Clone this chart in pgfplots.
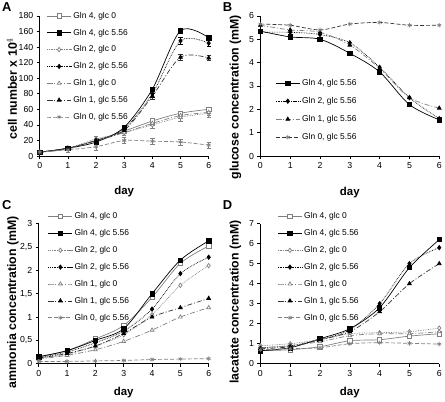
\documentclass[border=0pt]{standalone}
\usepackage{fontspec}
\setmainfont{Liberation Sans}
\usepackage{pgfplots}
\pgfplotsset{compat=1.18}
\definecolor{lg}{gray}{0.5}
\definecolor{dg}{gray}{0.2}
\pgfplotsset{
 panel/.style={scale only axis, axis x line=bottom, axis y line=left,
  axis line style={-, line width=0.6pt}, tick align=outside, major tick length=3pt,
  tick style={black, line width=0.6pt}, xmin=0, xmax=6, xtick={0,...,6}, clip=false,
  tick label style={font=\fontsize{8.8}{10}\selectfont},
  /pgf/number format/assume math mode=true,
  xlabel={day},
  legend cell align=left,
  legend style={draw=none, fill=none, font=\fontsize{8.5}{10}\selectfont, anchor=north west, row sep=5.3pt, inner sep=1pt},
  legend image code/.code={\draw[mark repeat=2, mark phase=2] plot coordinates {(0pt,0pt) (12pt,0pt) (24pt,0pt)};},
  every axis plot/.append style={line width=0.7pt, mark size=2.2pt, smooth},
  error bars/error bar style={solid, line width=0.5pt},
 },
 ylab/.style 2 args={every axis y label/.style={at={(axis description cs:#1,#2)}, rotate=90, anchor=center, font=\bfseries\fontsize{12.4}{14}\selectfont}},
 xlab/.style={every axis x label/.style={at={(axis description cs:0.5,#1)}, anchor=center, font=\bfseries\fontsize{11.5}{13}\selectfont}},
 s4o/.style={lg, solid, mark=square*, mark options={solid, fill=white, draw=lg}},
 s4f/.style={black, solid, mark=square*, mark options={solid, fill=black}},
 s2o/.style={lg, densely dotted, mark=diamond*, mark options={solid, fill=white, draw=lg}},
 s2f/.style={black, densely dotted, mark=diamond*, mark options={solid, fill=black}},
 s1o/.style={lg, dash pattern=on 5pt off 2pt on 1pt off 2pt, mark=triangle*, mark options={solid, fill=white, draw=lg}},
 s1f/.style={dg, dash pattern=on 5pt off 2pt on 1pt off 2pt, mark=triangle*, mark options={solid, fill=black, draw=black}},
 s0/.style={lg, dash pattern=on 4pt off 2pt, mark=asterisk, mark options={solid, draw=lg}},
}
\begin{document}
\begin{tikzpicture}
\path (0pt,0pt) rectangle (445pt,401pt);
\node[anchor=north west, font=\bfseries\fontsize{13}{15}\selectfont, inner sep=0pt] at (2pt,399pt) {A};
\node[anchor=north west, font=\bfseries\fontsize{13}{15}\selectfont, inner sep=0pt] at (224pt,399pt) {B};
\node[anchor=north west, font=\bfseries\fontsize{13}{15}\selectfont, inner sep=0pt] at (2pt,199pt) {C};
\node[anchor=north west, font=\bfseries\fontsize{13}{15}\selectfont, inner sep=0pt] at (224pt,199pt) {D};

% ---------- A ----------
\begin{axis}[panel, at={(40pt,244pt)}, anchor=south west, width=170pt, height=141pt,
  ymin=0, ymax=180, ytick={0,20,...,180},
  ylabel={cell number x 10$^{4}$}, ylab={-0.165}{0.48}, xlab=-0.25,
  legend style={at={(axis description cs:0.035,1.05)}},
  error bars/y dir=both, error bars/y explicit]
\addplot[s4o] coordinates {(0,5)+-(0,1) (1,10)+-(0,1) (2,20)+-(0,2) (3,32)+-(0,2) (4,45)+-(0,3) (5,55)+-(0,3) (6,60)+-(0,3)};
\addlegendentry{Gln 4, glc 0}
\addplot[s4f] coordinates {(0,5)+-(0,1) (1,10)+-(0,2) (2,18)+-(0,2) (3,37)+-(0,3) (4,86)+-(0,3) (5,161)+-(0,3) (6,152)+-(0,3)};
\addlegendentry{Gln 4, glc 5.56}
\addplot[s2o] coordinates {(0,5)+-(0,1) (1,10)+-(0,2) (2,22)+-(0,3) (3,30)+-(0,3) (4,40)+-(0,4) (5,50)+-(0,5) (6,55)+-(0,5)};
\addlegendentry{Gln 2, glc 0}
\addplot[s2f] coordinates {(0,5)+-(0,1) (1,10)+-(0,2) (2,20)+-(0,2) (3,35)+-(0,3) (4,80)+-(0,4) (5,148)+-(0,4) (6,145)+-(0,4)};
\addlegendentry{Gln 2, glc 5.56}
\addplot[s1o] coordinates {(0,5)+-(0,1) (1,9)+-(0,2) (2,20)+-(0,2) (3,30)+-(0,3) (4,42)+-(0,3) (5,52)+-(0,4) (6,56)+-(0,4)};
\addlegendentry{Gln 1, glc 0}
\addplot[s1f] coordinates {(0,5)+-(0,1) (1,10)+-(0,2) (2,20)+-(0,2) (3,33)+-(0,3) (4,77)+-(0,4) (5,127)+-(0,4) (6,126)+-(0,3)};
\addlegendentry{Gln 1, glc 5.56}
\addplot[s0] coordinates {(0,5)+-(0,2) (1,8)+-(0,3) (2,12)+-(0,4) (3,20)+-(0,4) (4,19)+-(0,4) (5,18)+-(0,4) (6,14)+-(0,4)};
\addlegendentry{Gln 0, glc 5.56}
\end{axis}

% ---------- B ----------
\begin{axis}[panel, at={(262pt,244pt)}, anchor=south west, width=180pt, height=141pt,
  ymin=0, ymax=6, ytick={0,...,6},
  ylabel={glucose concentration (mM)}, ylab={-0.139}{0.42}, xlab=-0.26,
  legend style={at={(axis description cs:0.078,0.57)}, row sep=6.5pt}]
\addplot[s4f] coordinates {(0,5.35) (1,5.1) (2,5.0) (3,4.4) (4,3.6) (5,2.2) (6,1.55)};
\addlegendentry{Gln 4, glc 5.56}
\addplot[s2f] coordinates {(0,5.3) (1,5.3) (2,5.2) (3,4.85) (4,3.8) (5,2.5) (6,1.6)};
\addlegendentry{Gln 2, glc 5.56}
\addplot[s1f, lg] coordinates {(0,5.6) (1,5.4) (2,5.3) (3,4.75) (4,3.75) (5,2.5) (6,2.05)};
\addlegendentry{Gln 1, glc 5.56}
\addplot[s0, dg] coordinates {(0,5.65) (1,5.6) (2,5.4) (3,5.65) (4,5.72) (5,5.6) (6,5.6)};
\addlegendentry{Gln 0, glc 5.56}
\end{axis}

% ---------- C ----------
\begin{axis}[panel, at={(39pt,35pt)}, anchor=south west, width=171pt, height=141pt,
  ymin=0, ymax=3, ytick={0,0.5,...,3},
  /pgf/number format/use comma,
  ylabel={ammonia concentration (mM)}, ylab={-0.152}{0.44}, xlab=-0.206,
  legend style={at={(axis description cs:0.048,1.1)}}]
\addplot[s4o] coordinates {(0,0.15) (1,0.28) (2,0.53) (3,0.82) (4,1.42) (5,2.15) (6,2.52)};
\addlegendentry{Gln 4, glc 0}
\addplot[s4f] coordinates {(0,0.15) (1,0.28) (2,0.5) (3,0.75) (4,1.5) (5,2.22) (6,2.63)};
\addlegendentry{Gln 4, glc 5.56}
\addplot[s2o] coordinates {(0,0.12) (1,0.2) (2,0.38) (3,0.62) (4,1.05) (5,1.68) (6,2.1)};
\addlegendentry{Gln 2, glc 0}
\addplot[s2f] coordinates {(0,0.13) (1,0.25) (2,0.45) (3,0.7) (4,1.17) (5,1.93) (6,2.28)};
\addlegendentry{Gln 2, glc 5.56}
\addplot[s1o] coordinates {(0,0.1) (1,0.18) (2,0.3) (3,0.48) (4,0.72) (5,1.0) (6,1.2)};
\addlegendentry{Gln 1, glc 0}
\addplot[s1f] coordinates {(0,0.12) (1,0.22) (2,0.38) (3,0.65) (4,1.0) (5,1.2) (6,1.4)};
\addlegendentry{Gln 1, glc 5.56}
\addplot[s0] coordinates {(0,0.05) (1,0.05) (2,0.06) (3,0.07) (4,0.09) (5,0.1) (6,0.11)};
\addlegendentry{Gln 0, glc 5.56}
\end{axis}

% ---------- D ----------
\begin{axis}[panel, at={(262pt,35pt)}, anchor=south west, width=180pt, height=141pt,
  ymin=0, ymax=7, ytick={0,...,7},
  ylabel={lacatate concentration (mM)}, ylab={-0.139}{0.44}, xlab=-0.206,
  legend style={at={(axis description cs:0.09,1.1)}}]
\addplot[s4o] coordinates {(0,0.65) (1,0.7) (2,0.85) (3,1.15) (4,1.2) (5,1.38) (6,1.5)};
\addlegendentry{Gln 4, glc 0}
\addplot[s4f] coordinates {(0,0.65) (1,0.8) (2,1.25) (3,1.75) (4,2.8) (5,4.8) (6,6.2)};
\addlegendentry{Gln 4, glc 5.56}
\addplot[s2o] coordinates {(0,0.9) (1,1.0) (2,1.2) (3,1.5) (4,1.55) (5,1.6) (6,1.78)};
\addlegendentry{Gln 2, glc 0}
\addplot[s2f] coordinates {(0,0.8) (1,0.9) (2,1.2) (3,1.7) (4,3.0) (5,5.0) (6,5.8)};
\addlegendentry{Gln 2, glc 5.56}
\addplot[s1o] coordinates {(0,0.8) (1,0.9) (2,1.1) (3,1.4) (4,1.5) (5,1.5) (6,1.6)};
\addlegendentry{Gln 1, glc 0}
\addplot[s1f] coordinates {(0,0.75) (1,0.85) (2,1.2) (3,1.6) (4,2.6) (5,4.0) (6,5.0)};
\addlegendentry{Gln 1, glc 5.56}
\addplot[s0] coordinates {(0,0.7) (1,0.75) (2,0.8) (3,1.0) (4,1.05) (5,1.02) (6,0.98)};
\addlegendentry{Gln 0, glc 5.56}
\end{axis}
\end{tikzpicture}
\end{document}
